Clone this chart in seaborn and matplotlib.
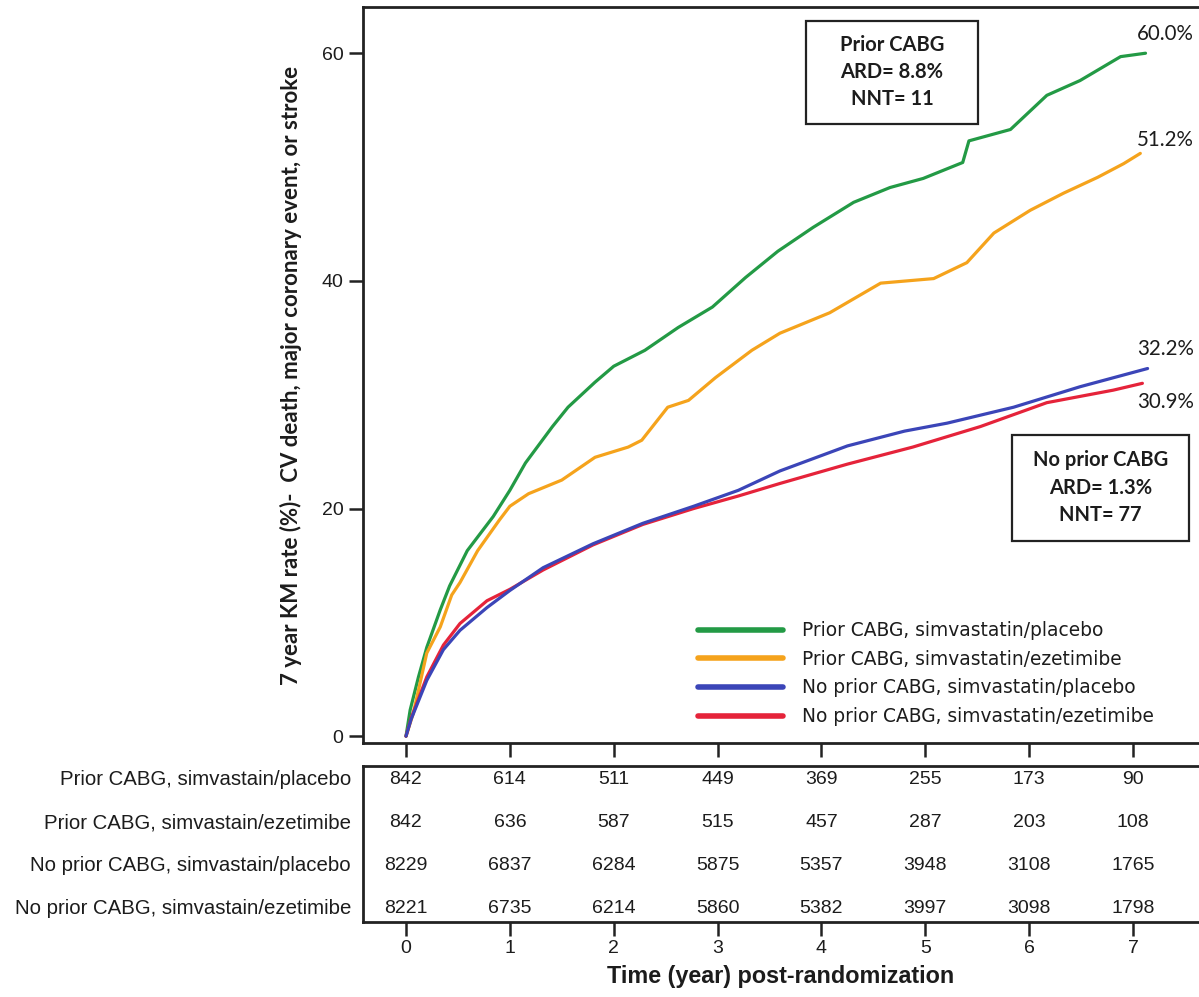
import matplotlib
matplotlib.use("Agg")
import matplotlib.pyplot as plt
import seaborn as sns
import numpy as np
import pandas as pd
from matplotlib.patches import Rectangle
from matplotlib.lines import Line2D
from matplotlib.transforms import blended_transform_factory

# ---------------- data ----------------
series_names = [
    "Prior CABG, simvastatin/placebo",
    "Prior CABG, simvastatin/ezetimibe",
    "No prior CABG, simvastatin/placebo",
    "No prior CABG, simvastatin/ezetimibe",
]
series_colors = ["#239a45", "#f5a31c", "#3b45b8", "#e5233a"]

green_t = [0, 0.04, 0.12, 0.2, 0.33, 0.42, 0.59, 0.84, 1.0, 1.15, 1.41, 1.56, 1.82, 2.0, 2.3,
           2.62, 2.95, 3.27, 3.58, 3.92, 4.31, 4.66, 4.98, 5.36, 5.42, 5.82, 6.17, 6.49, 6.88, 7.12]
green_y = [0, 2.3, 5.2, 7.8, 11.1, 13.2, 16.3, 19.3, 21.6, 24.0, 27.2, 28.9, 31.1, 32.5, 33.9,
           35.9, 37.7, 40.3, 42.6, 44.7, 46.9, 48.2, 49.0, 50.4, 52.3, 53.3, 56.3, 57.6, 59.7, 60.0]

orange_t = [0, 0.07, 0.2, 0.33, 0.44, 0.52, 0.69, 0.9, 1.0, 1.18, 1.5, 1.82, 2.14, 2.27, 2.52,
            2.72, 2.98, 3.33, 3.6, 4.08, 4.57, 5.08, 5.4, 5.66, 6.01, 6.33, 6.66, 6.91, 7.07]
orange_y = [0, 2.0, 7.3, 9.6, 12.4, 13.5, 16.3, 19.0, 20.2, 21.3, 22.5, 24.5, 25.4, 26.0, 28.9,
            29.5, 31.5, 33.9, 35.4, 37.2, 39.8, 40.2, 41.6, 44.2, 46.2, 47.7, 49.1, 50.3, 51.2]

blue_t = [0, 0.05, 0.2, 0.36, 0.52, 0.78, 1.0, 1.32, 1.8, 2.28, 2.77, 3.2, 3.6, 4.25, 4.8,
          5.21, 5.85, 6.49, 7.14]
blue_y = [0, 1.5, 4.9, 7.6, 9.3, 11.3, 12.8, 14.8, 16.9, 18.7, 20.2, 21.6, 23.3, 25.5, 26.8,
          27.5, 28.9, 30.7, 32.3]

red_t = [0, 0.05, 0.2, 0.36, 0.52, 0.78, 1.0, 1.32, 1.8, 2.28, 2.77, 3.2, 3.6, 4.25, 4.88,
         5.53, 6.17, 6.81, 7.09]
red_y = [0, 1.6, 5.2, 8.0, 9.9, 11.9, 12.9, 14.6, 16.8, 18.6, 20.0, 21.1, 22.2, 23.9, 25.4,
         27.2, 29.3, 30.4, 31.0]

end_labels = ["60.0%", "51.2%", "32.2%", "30.9%"]

risk_rows = [
    "Prior CABG, simvastain/placebo",
    "Prior CABG, simvastain/ezetimibe",
    "No prior CABG, simvastain/placebo",
    "No prior CABG, simvastain/ezetimibe",
]
risk_times = [0, 1, 2, 3, 4, 5, 6, 7]
risk_prior_placebo = [842, 614, 511, 449, 369, 255, 173, 90]
risk_prior_ezetimibe = [842, 636, 587, 515, 457, 287, 203, 108]
risk_noprior_placebo = [8229, 6837, 6284, 5875, 5357, 3948, 3108, 1765]
risk_noprior_ezetimibe = [8221, 6735, 6214, 5860, 5382, 3997, 3098, 1798]

y_ticks = [0, 20, 40, 60]
box1_lines = ["Prior CABG", "ARD= 8.8%", "NNT= 11"]
box2_lines = ["No prior CABG", "ARD= 1.3%", "NNT= 77"]
y_label = "7 year KM rate (%)-  CV death, major coronary event, or stroke"
x_label = "Time (year) post-randomization"

# ---------------- style ----------------
sns.set_theme(style="ticks")
plt.rcParams["font.family"] = ["Liberation Sans", "DejaVu Sans"]
TXT = "#1c1c1c"
SP = "#222222"

W, H = 1199, 997
fig = plt.figure(figsize=(W / 100, H / 100), dpi=100)
fig.patch.set_facecolor("white")


def fx(px):
    return px / W


def fy(py):
    return 1 - py / H


ax = fig.add_axes([fx(363), fy(743), (W - 363) / W, fy(7) - fy(743)])
tab = fig.add_axes([fx(363), fy(922), (W - 363) / W, fy(766) - fy(922)])

# ---------------- curves ----------------
curve_ts = [green_t, orange_t, blue_t, red_t]
curve_ys = [green_y, orange_y, blue_y, red_y]
frames = []
for name, t, y in zip(series_names, curve_ts, curve_ys):
    frames.append(pd.DataFrame({"t": t, "rate": y, "group": name}))
df = pd.concat(frames, ignore_index=True)

zorders = {series_names[0]: 3, series_names[1]: 3, series_names[2]: 5, series_names[3]: 4}
for name, col in zip(series_names, series_colors):
    sub = df[df["group"] == name]
    sns.lineplot(data=sub, x="t", y="rate", ax=ax, color=col, lw=2.3,
                 estimator=None, sort=False, legend=False, zorder=zorders[name])

ax.set_xlim(-0.414, 7.635)
ax.set_ylim(-0.6, 64.06)
ax.set_yticks(y_ticks)
ax.set_yticklabels([str(v) for v in y_ticks])
ax.set_xticks(risk_times)
ax.set_xticklabels([])
ax.set_xlabel("")
ax.set_ylabel(y_label, fontsize=15, fontweight="bold", family=["Lato", "DejaVu Sans"],
              color=TXT, labelpad=14)
ax.spines["right"].set_visible(False)
for s in ["left", "top", "bottom"]:
    ax.spines[s].set_linewidth(2.0)
    ax.spines[s].set_color(SP)
ax.tick_params(axis="both", direction="out", length=10, width=1.8, color=SP,
               labelsize=14, labelcolor=TXT, pad=4)

# end-of-curve percent labels
label_pos_y = [61.7, 52.4, 34.0, 29.4]
pct_texts = []
for lab, yy in zip(end_labels, label_pos_y):
    pct_texts.append(ax.text(7.04, yy, lab, ha="left", va="center", fontsize=15,
                             family=["Lato", "DejaVu Sans"], color=TXT))

# legend
handles = [Line2D([0], [0], color=c, lw=4) for c in series_colors]
leg = ax.legend(handles, series_names, loc="upper left",
                bbox_to_anchor=(fx(698), fy(621)), bbox_transform=fig.transFigure,
                frameon=False, handlelength=4.9, handletextpad=1.1,
                labelspacing=0.55, borderpad=0, borderaxespad=0,
                prop={"family": ["DejaVu Sans"], "size": 12.5})
for t in leg.get_texts():
    t.set_color(TXT)

# annotation boxes
def draw_box(x0, y0, x1, y1, lines, ys):
    fig.add_artist(Rectangle((fx(x0), fy(y1)), (x1 - x0) / W, (y1 - y0) / H,
                             transform=fig.transFigure, fill=False, lw=1.6, ec=SP))
    out = []
    for ln, yy in zip(lines, ys):
        out.append(fig.text(fx((x0 + x1) / 2), fy(yy), ln, ha="center", va="center",
                            fontsize=14, fontweight="bold", family=["Lato", "DejaVu Sans"],
                            color=TXT))
    return out

box_texts = draw_box(806, 21, 978, 124, box1_lines, [45, 72, 99])
box_texts += draw_box(1012, 435, 1189, 541, box2_lines, [460, 488, 515])

# ---------------- number at risk table ----------------
risk_values = [risk_prior_placebo, risk_prior_ezetimibe, risk_noprior_placebo, risk_noprior_ezetimibe]
tab.set_xlim(ax.get_xlim())
tab.set_ylim(3.328, -0.328)
for i, row in enumerate(risk_values):
    for tt, v in zip(risk_times, row):
        tab.text(tt, i, str(v), ha="center", va="center", fontsize=14, color=TXT)
row_tf = blended_transform_factory(fig.transFigure, tab.transData)
row_texts = []
for i, lab in enumerate(risk_rows):
    row_texts.append(tab.text(fx(351), i, lab, transform=row_tf, ha="right", va="center",
                              fontsize=14.5, color=TXT))
tab.set_yticks([])
tab.set_xticks(risk_times)
tab.set_xticklabels([str(v) for v in risk_times])
tab.spines["right"].set_visible(False)
for s in ["left", "top", "bottom"]:
    tab.spines[s].set_linewidth(2.0)
    tab.spines[s].set_color(SP)
tab.tick_params(axis="x", direction="out", length=10, width=1.8, color=SP,
                labelsize=14, labelcolor=TXT, pad=3)
tab.set_xlabel(x_label, fontsize=15, fontweight="bold", color=TXT, labelpad=6)

# ---------------- fit text sizes to the reference widths ----------------
renderer = fig.canvas.get_renderer()


def fit(texts, target_px, ref=None, vertical=False):
    ref = ref if ref is not None else texts[0]
    bb = ref.get_window_extent(renderer)
    cur = bb.height if vertical else bb.width
    scale = target_px / cur
    for t in texts:
        t.set_fontsize(t.get_fontsize() * scale)


fit([ax.yaxis.label], 623, vertical=True)
fit(row_texts, 337, ref=row_texts[3])
fit(list(leg.get_texts()), 353, ref=leg.get_texts()[3])
fit(box_texts, 136, ref=box_texts[3])
fit(pct_texts, 57, ref=pct_texts[2])
fit([tab.xaxis.label], 350)

fig.savefig("out.png", dpi=100, facecolor="white")
